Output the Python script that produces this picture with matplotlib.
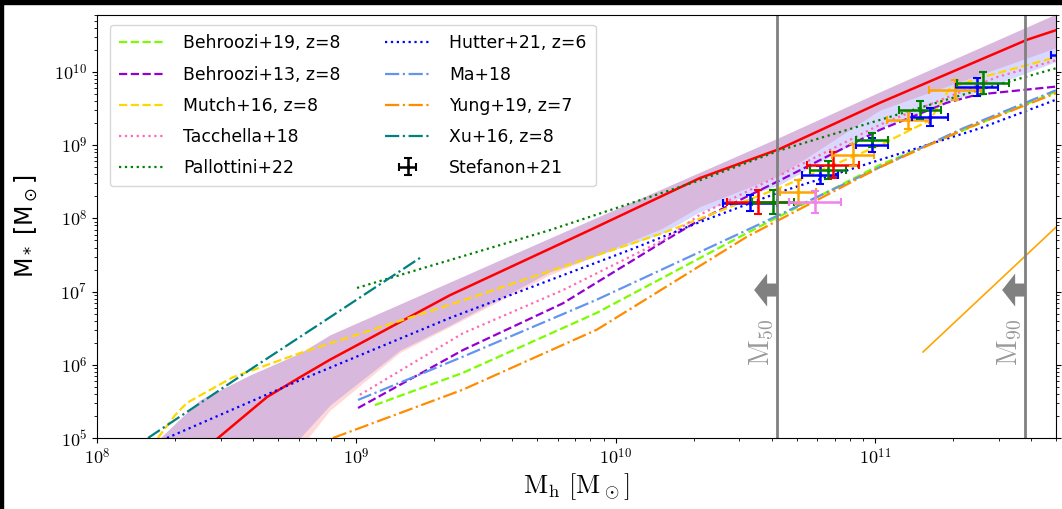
import numpy as np
import matplotlib
matplotlib.use("Agg")
import matplotlib.pyplot as plt
from matplotlib.ticker import FuncFormatter
from matplotlib.patches import Rectangle, Polygon
from matplotlib.transforms import ScaledTranslation

plt.rcParams['mathtext.fontset'] = 'cm'

# ---- data (log10 of halo mass / stellar mass) ----
red_lx = [8.467, 8.656, 8.783, 8.899, 9.041, 9.361, 9.901, 10.325, 10.634, 11.02, 11.587, 11.698]
red_ly = [5.0, 5.56, 5.83, 6.07, 6.34, 6.95, 7.84, 8.55, 8.95, 9.58, 10.44, 10.57]

# shaded ranges (pink one and lavender one, they overlap to purple)
band_up_lx = [8.243, 8.397, 8.590, 8.783, 8.899, 9.361, 9.797, 10.325, 10.634, 11.02, 11.698]
band_up_ly = [5.0, 5.52, 5.86, 6.16, 6.41, 7.13, 7.81, 8.63, 9.11, 9.73, 10.79]
pink_lo_lx = [8.814, 8.899, 9.169, 9.361, 9.747, 10.183, 10.325, 10.634, 11.02, 11.698]
pink_lo_ly = [5.0, 5.38, 6.17, 6.52, 7.23, 7.87, 8.16, 8.59, 9.48, 10.33]
lav_lo_lx = [8.783, 8.899, 9.169, 9.361, 9.747, 10.183, 10.325, 10.634, 11.02, 11.698]
lav_lo_ly = [5.0, 5.45, 6.20, 6.54, 7.27, 7.80, 8.09, 8.46, 9.23, 10.14]

beh19_lx = [9.072, 9.411, 9.928, 10.507, 11.02, 11.698]
beh19_ly = [5.45, 5.89, 6.71, 7.80, 8.73, 9.73]
beh13_lx = [9.007, 9.411, 9.797, 10.183, 10.325, 10.634, 11.02, 11.278, 11.394, 11.698]
beh13_ly = [5.41, 6.20, 6.84, 7.68, 7.98, 8.52, 9.21, 9.58, 9.69, 9.80]
mutch_lx = [8.235, 8.301, 8.347, 8.524, 8.783, 9.361, 10.183, 10.634, 11.02, 11.212, 11.29, 11.405, 11.698]
mutch_ly = [5.0, 5.31, 5.48, 5.83, 6.16, 6.82, 7.80, 8.42, 9.00, 9.34, 9.78, 9.92, 10.20]
tacc_lx = [9.014, 9.411, 9.797, 10.183, 10.325, 10.634, 11.02, 11.471, 11.698]
tacc_ly = [5.59, 6.43, 7.02, 7.70, 8.05, 8.59, 9.28, 9.93, 10.16]
pall_lx = [9.003, 9.747, 10.325, 10.634, 11.34, 11.698]
pall_ly = [7.05, 7.84, 8.52, 8.93, 9.69, 10.05]
hutter_lx = [8.27, 8.783, 9.361, 10.056, 10.325, 10.634, 11.02, 11.405, 11.698]
hutter_ly = [5.0, 5.79, 6.64, 7.57, 7.95, 8.36, 8.80, 9.23, 9.62]
ma_lx = [9.007, 9.411, 9.928, 10.507, 11.02, 11.34, 11.698]
ma_ly = [5.52, 6.11, 6.89, 7.84, 8.70, 9.23, 9.75]
yung_lx = [8.91, 9.411, 9.928, 10.507, 11.02, 11.34, 11.698]
yung_ly = [5.0, 5.66, 6.48, 7.75, 8.70, 9.21, 9.71]
xu_lx = [8.197, 8.602, 8.899, 9.246]
xu_ly = [5.0, 5.96, 6.65, 7.46]
thin_lx = [11.186, 11.75]
thin_ly = [6.175, 8.05]

# Stefanon+21 points
st_lx = [10.518, 10.549, 10.607, 10.703, 10.769, 10.788, 10.819, 10.838, 10.916,
         10.989, 10.989, 11.128, 11.174, 11.212, 11.309, 11.394, 11.417, 11.80]
st_ly = [8.21, 8.224, 8.224, 8.361, 8.224, 8.593, 8.661, 8.73, 8.866,
         9.003, 9.071, 9.344, 9.481, 9.385, 9.754, 9.795, 9.85, 10.23]
st_xe = [0.105, 0.12, 0.08, 0.07, 0.10, 0.07, 0.07, 0.10, 0.08,
         0.06, 0.06, 0.08, 0.08, 0.07, 0.10, 0.08, 0.10, 0.12]
st_ye = [0.115, 0.16, 0.17, 0.16, 0.15, 0.12, 0.12, 0.18, 0.15,
         0.10, 0.10, 0.12, 0.12, 0.12, 0.13, 0.12, 0.15, 0.10]
st_col = ['blue', 'red', 'green', 'orange', 'violet', 'blue', 'green', 'red', 'orange',
          'blue', 'green', 'orange', 'green', 'blue', 'orange', 'blue', 'green', 'blue']

m50, m90 = 4.2e10, 3.8e11


def p(a):
    return 10.0**np.asarray(a)


fig = plt.figure(figsize=(10.62, 5.09), dpi=100)
ax = fig.add_axes([0.0913, 0.1395, 0.9031, 0.831])

# shaded bands
gx = np.linspace(8.243, 11.698, 400)
up = np.interp(gx, band_up_lx, band_up_ly)
lo_pink = np.interp(gx, pink_lo_lx, pink_lo_ly, left=5.0)
lo_lav = np.interp(gx, lav_lo_lx, lav_lo_ly, left=5.0)
ax.fill_between(p(gx), p(np.minimum(lo_pink, up)), p(up), color='red', alpha=0.15, lw=0)
ax.fill_between(p(gx), p(np.minimum(lo_lav, up)), p(up), color='blue', alpha=0.15, lw=0)

ax.plot(p(red_lx), p(red_ly), color='red', lw=1.8)

ax.plot(p(beh19_lx), p(beh19_ly), color='lawngreen', ls='--', lw=1.6, label='Behroozi+19, z=8')
ax.plot(p(beh13_lx), p(beh13_ly), color='darkviolet', ls='--', lw=1.6, label='Behroozi+13, z=8')
ax.plot(p(mutch_lx), p(mutch_ly), color='gold', ls='--', lw=1.6, label='Mutch+16, z=8')
ax.plot(p(tacc_lx), p(tacc_ly), color='hotpink', ls=':', lw=1.6, label='Tacchella+18')
ax.plot(p(pall_lx), p(pall_ly), color='green', ls=':', lw=1.6, label='Pallottini+22')
ax.plot(p(hutter_lx), p(hutter_ly), color='blue', ls=':', lw=1.6, label='Hutter+21, z=6')
ax.plot(p(ma_lx), p(ma_ly), color='cornflowerblue', ls='-.', lw=1.6, label='Ma+18')
ax.plot(p(yung_lx), p(yung_ly), color='darkorange', ls='-.', lw=1.6, label='Yung+19, z=7')
ax.plot(p(xu_lx), p(xu_ly), color='teal', ls='-.', lw=1.6, label='Xu+16, z=8')
ax.plot(p(thin_lx), p(thin_ly), color='orange', lw=1.2)

ebkw = dict(fmt='.', ms=4, elinewidth=1.8, capsize=3, capthick=1.5)
for lx_, ly_, xe, ye, c in zip(st_lx, st_ly, st_xe, st_ye, st_col):
    x0, y0 = 10**lx_, 10**ly_
    ax.errorbar([x0], [y0], xerr=[[x0 - 10**(lx_ - xe)], [10**(lx_ + xe) - x0]],
                yerr=[[y0 - 10**(ly_ - ye)], [10**(ly_ + ye) - y0]], color=c, **ebkw)
# legend entry only (drawn outside the limits)
ax.errorbar([1e7], [1e3], xerr=[5e6], yerr=[5e2], color='k', label='Stefanon+21', **ebkw)

# completeness limits with arrows
arrow_px = np.array([(0, 6.5), (-10, 6.5), (-10, 16.5), (-23, 0), (-10, -16.5),
                     (-10, -6.5), (0, -6.5)]) / 100.0
for m, lab in [(m50, r'$\mathrm{M_{50}}$'), (m90, r'$\mathrm{M_{90}}$')]:
    ax.axvline(m, color='gray', lw=2)
    tr = fig.dpi_scale_trans + ScaledTranslation(m, 1.05e7, ax.transData)
    ax.add_patch(Polygon(arrow_px, closed=True, transform=tr, color='gray', lw=0))
    ax.text(m / 10**0.004, 2.0e6, lab, rotation=90, color='#999999', fontsize=20,
            ha='right', va='center')

ax.set_xscale('log')
ax.set_yscale('log')
ax.set_xlim(1e8, 5e11)
ax.set_ylim(1e5, 6e10)
fmt = FuncFormatter(lambda v, pos: r'$10^{%d}$' % round(np.log10(v)))
ax.xaxis.set_major_formatter(fmt)
ax.yaxis.set_major_formatter(fmt)
ax.tick_params(which='both', right=True, labelsize=13)
ax.set_xlabel(r'$\mathrm{M_h\ [M_\odot]}$', fontsize=19, labelpad=2)
ax.set_ylabel(r'M$_*$ [M$_\odot$]', fontsize=17, labelpad=10, math_fontfamily='dejavusans')

ax.legend(loc='upper left', bbox_to_anchor=(0.0136, 0.9764), borderaxespad=0.0,
          ncol=2, fontsize=12.4, handlelength=2.6, handletextpad=1.1,
          labelspacing=0.76, columnspacing=2.6, frameon=True, fancybox=True,
          framealpha=0.8, borderpad=0.55)

# black strips on the image edges
fig.patches.append(Rectangle((0, 1 - 4 / 509), 1, 4 / 509, transform=fig.transFigure,
                             color='black', zorder=10))
fig.patches.append(Rectangle((0, 0), 3 / 1062, 1, transform=fig.transFigure,
                             color='black', zorder=10))

fig.savefig('out.png', dpi=100)
